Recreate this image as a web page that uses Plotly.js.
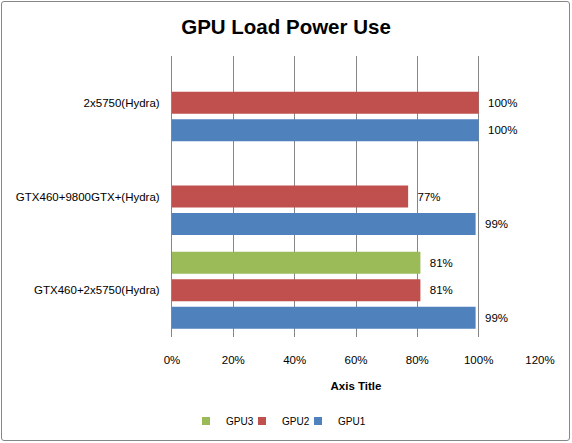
<!DOCTYPE html>
<html>
<head>
<meta charset="utf-8">
<script src="https://cdn.plot.ly/plotly-3.0.1.min.js"></script>
<style>
html,body{margin:0;padding:0;background:#fff;}
#wrap{position:relative;width:572px;height:443px;}
#chart{width:572px;height:443px;}
#frame{position:absolute;left:1px;top:1px;width:567px;height:438px;border:1px solid #868686;border-radius:3px;pointer-events:none;}
</style>
</head>
<body>
<div id="wrap"><div id="chart"></div><div id="frame"></div></div>
<script>
var categories = ["GTX460+2x5750(Hydra)", "GTX460+9800GTX+(Hydra)", "2x5750(Hydra)"];
var gpu1 = [0.99, 0.99, 1.00];
var gpu2 = [0.81, 0.77, 1.00];
var gpu3 = [0.81, null, null];
var seriesNames = ["GPU1", "GPU2", "GPU3"];
var seriesColors = ["#4F81BD", "#C0504D", "#9BBB59"];
var xTicks = [0, 0.2, 0.4, 0.6, 0.8, 1.0, 1.2];
var xTickLabels = ["0%", "20%", "40%", "60%", "80%", "100%", "120%"];

var font = "Liberation Sans, Arial, sans-serif";
var fs = 11.5;
function pct(v){ return v == null ? "" : "\u00a0\u00a0" + Math.round(v*100) + "%"; }
var data = [gpu1, gpu2, gpu3].map(function(vals, i){
  return {
    type: "bar", orientation: "h",
    y: categories, x: vals, name: seriesNames[i],
    marker: {color: seriesColors[i]},
    text: vals.map(pct), textposition: "outside",
    textfont: {family: font, size: fs, color: "#000"},
    cliponaxis: false, hoverinfo: "none", showlegend: false
  };
});
// legend-only entries (one legend per series so spacing can match)
var legendIds = ["legend3", "legend2", "legend"];
seriesNames.forEach(function(n, i){
  data.push({
    type: "scatter", mode: "markers", x: [null], y: [null], name: n,
    marker: {symbol: "square", size: 8, color: seriesColors[i]},
    showlegend: true, legend: legendIds[i], hoverinfo: "none"
  });
});

function leg(px){
  return {orientation: "h", xref: "container", yref: "container", x: px/572, xanchor: "left",
          y: 1 - 421/443, yanchor: "middle", font: {family: font, size: 10, color: "#000"},
          bgcolor: "rgba(0,0,0,0)", itemwidth: 30};
}

var layout = {
  width: 572, height: 443,
  margin: {l: 172, r: 32, t: 56, b: 106},
  paper_bgcolor: "#fff", plot_bgcolor: "#fff",
  font: {family: font, size: fs, color: "#000"},
  title: {text: "<b>GPU Load Power Use</b>", font: {family: font, size: 20.5, color: "#000"}, x: 0.5, xanchor: "center", y: 0.94, yanchor: "middle"},
  barmode: "group", bargap: 0.12, bargroupgap: 0.2,
  xaxis: {
    range: [0, 1.2], tickvals: xTicks, ticktext: xTickLabels,
    showgrid: true, gridcolor: "#868686", gridwidth: 1,
    zeroline: false, showline: false, ticks: "outside", ticklen: 12, tickcolor: "rgba(0,0,0,0)",
    tickfont: {family: font, size: fs, color: "#000"},
    title: {text: "<b>Axis Title</b>", font: {family: font, size: fs, color: "#000"}, standoff: 17},
    fixedrange: true
  },
  yaxis: {
    type: "category", categoryorder: "array", categoryarray: categories,
    showgrid: false, zeroline: false, showline: true, linecolor: "#868686", linewidth: 1,
    ticks: "", ticklabelstandoff: 9,
    tickfont: {family: font, size: fs, color: "#000"},
    fixedrange: true
  },
  showlegend: true,
  legend: leg(186),
  legend2: leg(242),
  legend3: leg(298)
};
Plotly.newPlot("chart", data, layout, {displayModeBar: false, staticPlot: true});
</script>
</body>
</html>
